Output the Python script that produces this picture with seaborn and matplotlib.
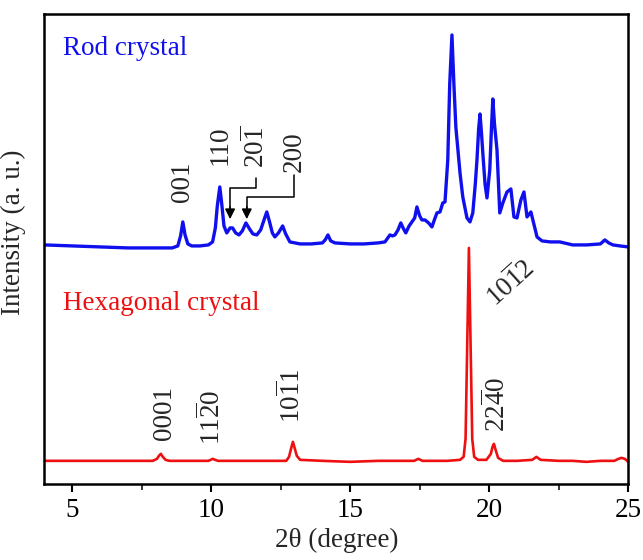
import numpy as np
import pandas as pd
import matplotlib
matplotlib.use("Agg")
import matplotlib.pyplot as plt
import seaborn as sns
from matplotlib.ticker import MultipleLocator

# ---- data (2theta in degrees, intensity in arbitrary units) ----
rod_2theta = [4.0, 5.0, 6.0, 7.0, 8.0, 8.6, 8.8, 8.9, 8.98, 9.06, 9.16, 9.3, 9.6, 9.9, 10.05,
              10.15, 10.22, 10.31, 10.38, 10.46, 10.56, 10.68, 10.77, 10.88, 11.0, 11.12, 11.25,
              11.38, 11.5, 11.64, 11.78, 11.9, 12.0, 12.1, 12.2, 12.29, 12.42, 12.57, 12.68,
              12.83, 13.2, 13.6, 14.0, 14.1, 14.2, 14.3, 14.45, 15.0, 15.5, 16.0, 16.25, 16.43,
              16.52, 16.61, 16.72, 16.82, 16.92, 17.0, 17.12, 17.22, 17.32, 17.4, 17.5, 17.58,
              17.69, 17.82, 17.94, 18.04, 18.12, 18.23, 18.33, 18.41, 18.51, 18.58, 18.66, 18.73,
              18.8, 18.95, 19.05, 19.2, 19.31, 19.41, 19.5, 19.56, 19.62, 19.67, 19.72, 19.77,
              19.85, 19.92, 20.02, 20.08, 20.13, 20.19, 20.28, 20.38, 20.49, 20.64, 20.78, 20.89,
              21.0, 21.14, 21.25, 21.36, 21.5, 21.57, 21.65, 21.72, 21.9, 22.2, 22.54, 23.0,
              23.5, 24.0, 24.16, 24.3, 24.45, 24.7, 25.0]
rod_intensity = [239, 238, 237, 236, 236, 236, 238, 248, 262, 249, 240, 238, 238, 239, 242,
                 256, 278, 297, 280, 258, 251, 256, 256, 251, 249, 253, 261,
                 255, 250, 249, 254, 264, 272, 262, 251, 247, 251, 258, 250,
                 242, 240, 240, 241, 244, 249, 243, 241, 240, 240, 241, 242, 249,
                 248, 249, 254, 261, 255, 251, 258, 262, 266, 277, 268, 264,
                 264, 261, 257, 265, 271, 272, 281, 282, 324, 400, 449, 400,
                 357, 311, 287, 266, 262, 271, 300, 324, 355, 370, 352, 331,
                 300, 286, 314, 355, 385, 360, 334, 271, 281, 292, 295, 267,
                 266, 284, 292, 267, 272, 264, 255, 247, 243, 242, 242, 239,
                 239, 240, 244, 241, 239, 238, 237]

hex_2theta = [4.0, 5.0, 6.0, 7.0, 7.9, 8.05, 8.12, 8.19, 8.26, 8.36, 8.5, 9.0, 9.9, 9.98,
              10.06, 10.14, 10.25, 11.0, 12.0, 12.7, 12.8, 12.88, 12.94, 13.0, 13.08, 13.2,
              14.0, 15.0, 16.0, 17.3, 17.45, 17.6, 18.5, 18.95, 19.08, 19.15, 19.21, 19.27,
              19.33, 19.39, 19.46, 19.6, 19.9, 20.06, 20.12, 20.17, 20.23, 20.32, 20.5, 21.0,
              21.55, 21.7, 21.85, 22.5, 23.0, 23.5, 24.0, 24.5, 24.65, 24.75, 24.88, 25.0]
hex_intensity = [23, 23, 23, 23, 23, 25, 28, 30, 27, 24, 23, 23, 23, 24,
                 25, 24, 23, 23, 23, 23, 27, 36, 42, 36, 28, 24,
                 23, 22, 23, 23, 25, 23, 23, 24, 27, 45, 140, 236,
                 140, 45, 27, 24, 24, 30, 37, 40, 34, 26, 23, 23,
                 24, 27, 24, 23, 23, 22, 23, 23, 25, 26, 25, 22]

series_names = ["Rod crystal", "Hexagonal crystal"]
series_colors = ["#1010ee", "#ee1010"]

rod_labels = ["001", "110", r"$\mathregular{20\overline{1}}$", "200"]
rod_label_x = [8.98, 10.31, 11.61, 12.97]
rod_label_y = [282, 319, 316, 312]

hex_labels = ["0001", r"$\mathregular{11\overline{2}0}$", r"$\mathregular{10\overline{1}1}$",
              r"$\mathregular{22\overline{4}0}$"]
hex_label_x = [8.33, 10.03, 12.90, 20.28]
hex_label_y = [44, 39, 61, 52]

x_ticks = [5, 10, 15, 20, 25]

# ---- style ----
sns.set_theme(style="ticks")
plt.rcParams["font.family"] = ["Liberation Serif", "DejaVu Serif"]
plt.rcParams["mathtext.fontset"] = "custom"
plt.rcParams["mathtext.rm"] = "Liberation Serif"

fig = plt.figure(figsize=(6.43, 5.6), dpi=100)
ax = fig.add_axes([0.069, 0.136, 0.908, 0.839])

rod_df = pd.DataFrame({"2theta": rod_2theta, "I": rod_intensity})
hex_df = pd.DataFrame({"2theta": hex_2theta, "I": hex_intensity})
sns.lineplot(data=rod_df, x="2theta", y="I", ax=ax, color=series_colors[0], lw=2.4, sort=False)
sns.lineplot(data=hex_df, x="2theta", y="I", ax=ax, color=series_colors[1], lw=1.9, sort=False)

ax.set_xlim(4, 25)
ax.set_ylim(0, 470)
ax.set_xticks(x_ticks)
ax.xaxis.set_minor_locator(MultipleLocator(2.5))
ax.set_yticks([])
ax.tick_params(axis="x", which="major", length=6, width=1.5, direction="out",
               labelsize=19.5, pad=4, colors="black")
ax.tick_params(axis="x", which="minor", length=4, width=1.3, direction="out")
for s in ax.spines.values():
    s.set_linewidth(1.8)
    s.set_color("black")

ax.set_xlabel("2θ (degree)", fontsize=19.5, labelpad=4)
ax.set_ylabel("Intensity (a. u.)", fontsize=19.5, labelpad=6)
ax.yaxis.set_label_coords(-0.032, 0.536)

ax.text(4.66, 429, series_names[0], color=series_colors[0], fontsize=19.5, va="baseline")
ax.text(4.66, 174, series_names[1], color=series_colors[1], fontsize=19.5, va="baseline")

for lab, x, y in zip(rod_labels, rod_label_x, rod_label_y):
    ax.text(x, y, lab, rotation=90, ha="center", va="bottom", fontsize=19.5)
for lab, x, y in zip(hex_labels, hex_label_x, hex_label_y):
    ax.text(x, y, lab, rotation=90, ha="center", va="bottom", fontsize=19.5)
ax.text(20.75, 201, r"$\mathregular{10\overline{1}2}$", rotation=42, ha="center", va="center",
        fontsize=19.5)

# annotation arrows for 20-1 and 200
ax.plot([11.61, 11.61, 10.68, 10.68], [306, 296, 296, 275], color="black", lw=1.1)
ax.annotate("", xy=(10.68, 262), xytext=(10.68, 280),
            arrowprops=dict(arrowstyle="-|>", color="black", lw=1.1, mutation_scale=15))
ax.plot([12.97, 12.97, 11.28, 11.28], [309, 287, 287, 275], color="black", lw=1.1)
ax.annotate("", xy=(11.28, 262), xytext=(11.28, 280),
            arrowprops=dict(arrowstyle="-|>", color="black", lw=1.1, mutation_scale=15))

fig.savefig("out.png", dpi=100)
